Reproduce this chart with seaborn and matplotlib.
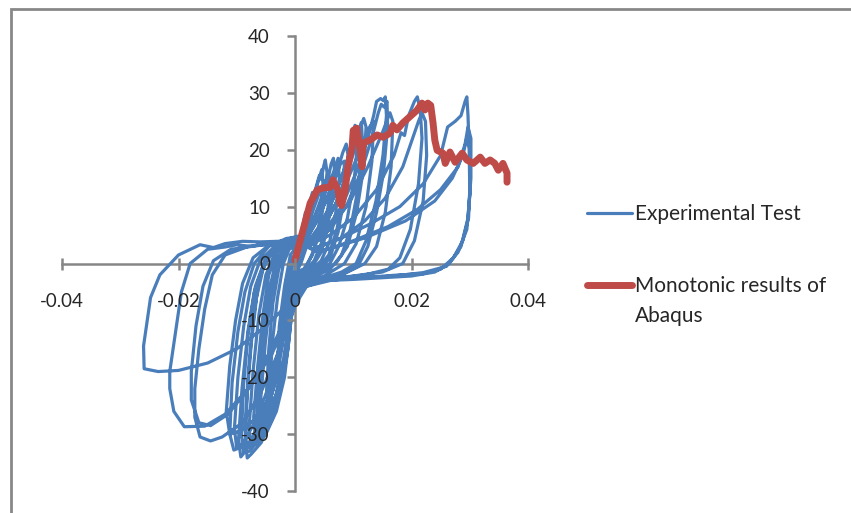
import matplotlib
matplotlib.use("Agg")
import pandas as pd
import matplotlib.pyplot as plt
import seaborn as sns
from matplotlib.patches import Rectangle

# Experimental hysteresis, one list of (displacement, force) vertices per cycle
cycle_1 = [(0.0, 0.0), (0.0005, 2.5), (0.001, 5.0), (0.0015, 7.0), (0.0012, 4.0), (0.0005, 0.5),
           (0.0, -1.0), (-0.0005, -3.0), (-0.001, -6.0), (-0.0015, -8.5), (-0.0012, -5.0),
           (-0.0006, -1.0), (0.0, 1.0)]
cycle_1b = [(0.0008, 4.0), (0.0018, 9.0), (0.0022, 7.0), (0.0012, 1.0), (0.0, -2.0), (-0.0008, -7.0),
            (-0.0018, -12.0), (-0.0016, -6.0), (-0.0006, 0.0), (0.0002, 2.0)]
cycle_2 = [(0.001, 4.0), (0.002, 8.0), (0.0025, 10.5), (0.0022, 6.0), (0.0015, 2.0), (0.0005, -0.5),
           (-0.0005, -3.0), (-0.0012, -8.0), (-0.002, -12.5), (-0.0026, -15.0), (-0.0022, -9.0),
           (-0.0015, -3.0), (-0.0005, 1.0), (0.0005, 2.0)]
cycle_2b = [(0.0012, 5.0), (0.0022, 9.5), (0.003, 12.5), (0.0028, 8.0), (0.002, 3.0), (0.001, 0.0),
            (-0.0003, -2.5), (-0.001, -7.0), (-0.0022, -14.0), (-0.003, -18.0), (-0.0027, -11.0),
            (-0.0018, -4.0), (-0.0008, 1.5), (0.0003, 3.0)]
cycle_3 = [(0.0015, 5.0), (0.0025, 9.0), (0.0035, 13.0), (0.0042, 15.5), (0.0045, 14.8), (0.0049, 17.0),
           (0.0052, 18.2), (0.0055, 16.0), (0.005, 11.0), (0.0042, 6.0), (0.003, 1.5), (0.0015, -1.0),
           (0.0, -1.5), (-0.001, -5.0), (-0.002, -12.0), (-0.003, -18.0), (-0.0038, -22.0),
           (-0.0043, -21.0), (-0.0039, -14.0), (-0.003, -6.0), (-0.002, 0.0), (-0.001, 2.5), (0.0, 3.0)]
cycle_3b = [(0.001, 3.5), (0.002, 7.0), (0.0032, 11.5), (0.004, 14.5), (0.0046, 16.5), (0.0048, 14.0),
            (0.0043, 8.0), (0.0035, 3.0), (0.002, -0.5), (0.0005, -2.0), (-0.0005, -6.0), (-0.0012, -12.0),
            (-0.002, -18.0), (-0.0032, -23.0), (-0.0045, -25.5), (-0.0049, -23.0), (-0.0045, -15.0),
            (-0.0038, -7.0), (-0.0028, -1.0), (-0.0015, 2.5), (0.0, 3.2)]
cycle_4 = [(0.001, 3.0), (0.0025, 6.0), (0.004, 10.0), (0.0052, 13.5), (0.0058, 15.5), (0.0062, 17.5),
           (0.0066, 18.5), (0.0068, 16.0), (0.0063, 11.0), (0.0055, 6.0), (0.0045, 2.0), (0.003, -0.5),
           (0.001, -2.0), (-0.0005, -3.0), (-0.0015, -9.0), (-0.0028, -17.0), (-0.004, -23.0),
           (-0.005, -26.5), (-0.0057, -27.5), (-0.0059, -24.0), (-0.0051, -14.0), (-0.0042, -6.0),
           (-0.003, 0.0), (-0.0015, 3.0), (0.0, 3.5)]
cycle_4b = [(0.0015, 3.5), (0.003, 7.0), (0.0045, 11.0), (0.0058, 14.0), (0.0068, 16.5), (0.0074, 18.5),
            (0.0076, 15.0), (0.007, 9.0), (0.006, 4.0), (0.0045, 0.5), (0.0025, -1.5), (0.0005, -2.5),
            (-0.001, -7.0), (-0.0025, -15.0), (-0.0038, -21.0), (-0.005, -25.0), (-0.0062, -28.0),
            (-0.0064, -25.0), (-0.0057, -16.0), (-0.0048, -8.0), (-0.0036, -1.5), (-0.002, 2.5),
            (-0.0005, 4.0)]
cycle_4c = [(0.0012, 4.0), (0.0028, 8.5), (0.0042, 12.5), (0.0055, 15.0), (0.006, 14.0), (0.0056, 9.0),
            (0.0047, 4.0), (0.0033, 0.5), (0.0015, -1.5), (0.0, -3.0), (-0.0007, -9.0), (-0.0015, -16.0),
            (-0.0027, -22.0), (-0.0042, -26.5), (-0.0058, -29.5), (-0.0066, -29.0), (-0.0062, -21.0),
            (-0.0054, -12.0), (-0.0044, -4.5), (-0.0032, 0.5), (-0.0016, 3.2), (0.0003, 4.6)]
cycle_5 = [(0.002, 3.0), (0.004, 6.0), (0.006, 10.0), (0.008, 15.0), (0.0092, 19.0), (0.0098, 21.5),
           (0.0103, 24.3), (0.0108, 22.0), (0.0102, 15.0), (0.009, 8.0), (0.0075, 3.0), (0.006, 0.0),
           (0.004, -1.8), (0.002, -2.5), (0.0, -2.5), (-0.0015, -8.0), (-0.003, -17.0), (-0.0045, -24.0),
           (-0.006, -29.0), (-0.0068, -30.5), (-0.0071, -27.0), (-0.0064, -18.0), (-0.0055, -9.0),
           (-0.0045, -2.0), (-0.003, 2.0), (-0.0015, 3.5), (0.0, 3.5)]
cycle_5b = [(0.0025, 3.0), (0.005, 6.5), (0.0072, 11.0), (0.009, 16.0), (0.0102, 20.0), (0.011, 23.5),
            (0.0114, 24.8), (0.0116, 21.0), (0.0108, 13.0), (0.0095, 6.0), (0.008, 1.5), (0.006, -1.0),
            (0.003, -2.5), (0.0005, -3.0), (-0.0012, -9.0), (-0.0028, -18.0), (-0.0045, -25.0),
            (-0.0062, -30.0), (-0.0075, -32.0), (-0.0079, -29.0), (-0.0072, -19.0), (-0.0062, -9.0),
            (-0.005, -2.0), (-0.0032, 2.5), (-0.0012, 4.0), (0.0, 4.2)]
cycle_5c = [(0.0015, 3.5), (0.0035, 7.0), (0.0055, 11.5), (0.0072, 16.0), (0.0082, 19.5), (0.0088, 21.0),
            (0.0091, 19.0), (0.0085, 12.0), (0.0074, 5.5), (0.006, 1.0), (0.004, -1.5), (0.0015, -2.5),
            (-0.0003, -6.0), (-0.001, -13.0), (-0.0018, -20.0), (-0.0032, -26.0), (-0.005, -30.0),
            (-0.0068, -31.8), (-0.0083, -32.5), (-0.0086, -29.0), (-0.008, -19.0), (-0.0072, -10.0),
            (-0.0062, -3.0), (-0.0048, 1.0), (-0.003, 3.0), (-0.001, 4.2), (0.0005, 4.5)]
cycle_5d = [(0.0018, 4.0), (0.004, 8.0), (0.0062, 13.0), (0.0078, 17.5), (0.0085, 18.0), (0.0082, 12.0),
            (0.0072, 6.0), (0.0058, 1.5), (0.0038, -1.0), (0.0012, -2.5), (-0.0004, -7.0), (-0.0012, -14.0),
            (-0.0025, -21.0), (-0.0042, -27.0), (-0.0062, -31.0), (-0.0078, -33.0), (-0.0088, -33.2),
            (-0.0092, -30.0), (-0.0088, -21.0), (-0.008, -12.0), (-0.0068, -4.0), (-0.0052, 0.5),
            (-0.0032, 3.0), (-0.0012, 4.3), (0.0004, 4.8)]
cycle_6 = [(0.002, 3.0), (0.005, 5.5), (0.008, 10.0), (0.0105, 16.0), (0.0125, 22.0), (0.0135, 26.0),
           (0.014, 28.5), (0.0147, 29.0), (0.0152, 28.6), (0.0155, 29.3), (0.0157, 26.0), (0.0151, 19.0),
           (0.0139, 11.0), (0.0122, 4.0), (0.0105, 0.0), (0.008, -1.5), (0.005, -2.5), (0.002, -3.0),
           (0.0, -3.5), (-0.0015, -10.0), (-0.003, -18.0), (-0.005, -25.0), (-0.007, -30.0),
           (-0.0085, -33.0), (-0.0093, -34.0), (-0.0097, -31.0), (-0.0091, -22.0), (-0.0081, -12.0),
           (-0.007, -5.0), (-0.0055, -0.5), (-0.0035, 2.5), (-0.0015, 3.5), (0.0, 4.0)]
cycle_6b = [(0.0025, 3.0), (0.006, 6.0), (0.009, 10.5), (0.0115, 16.5), (0.0133, 22.5), (0.0143, 26.5),
            (0.0148, 28.0), (0.0153, 27.5), (0.0158, 28.5), (0.0159, 24.0), (0.0152, 16.0), (0.014, 9.0),
            (0.0125, 3.0), (0.0108, -0.5), (0.008, -2.0), (0.004, -3.0), (0.001, -3.5), (-0.0012, -8.0),
            (-0.003, -16.0), (-0.005, -23.0), (-0.007, -28.0), (-0.0088, -31.5), (-0.01, -32.5),
            (-0.0104, -29.0), (-0.0098, -20.0), (-0.0088, -11.0), (-0.0076, -4.0), (-0.006, 0.5),
            (-0.0035, 3.0), (-0.001, 4.0), (0.0005, 4.0)]
cycle_6c = [(0.002, 3.5), (0.0045, 7.0), (0.0068, 12.0), (0.0088, 17.5), (0.0105, 22.0), (0.0118, 25.5),
            (0.0122, 24.0), (0.0118, 17.0), (0.0106, 9.0), (0.009, 3.0), (0.007, 0.0), (0.004, -2.0),
            (0.001, -3.0), (-0.0005, -8.0), (-0.0012, -15.0), (-0.0022, -21.0), (-0.0038, -27.0),
            (-0.0058, -31.5), (-0.0075, -33.5), (-0.0082, -34.2), (-0.0085, -31.0), (-0.0082, -23.0),
            (-0.0075, -14.0), (-0.0066, -6.0), (-0.0055, -1.0), (-0.004, 2.0), (-0.002, 3.8), (0.0, 4.5)]
cycle_6d = [(0.002, 3.0), (0.0055, 7.5), (0.0085, 13.5), (0.011, 19.5), (0.0128, 24.0), (0.0135, 25.0),
            (0.0132, 18.0), (0.0122, 10.0), (0.0105, 3.5), (0.0085, 0.0), (0.005, -2.2), (0.0015, -3.5),
            (-0.0006, -9.0), (-0.0018, -17.0), (-0.0035, -24.0), (-0.006, -29.5), (-0.0085, -32.0),
            (-0.0105, -32.8), (-0.0112, -30.0), (-0.0108, -21.0), (-0.0098, -12.0), (-0.0086, -5.0),
            (-0.007, 0.0), (-0.0045, 3.0), (-0.0015, 4.4), (0.0, 4.6)]
cycle_7 = [(0.002, 3.0), (0.006, 5.0), (0.01, 8.0), (0.014, 13.0), (0.017, 19.0), (0.0182, 23.0),
           (0.0188, 22.5), (0.0195, 26.0), (0.0205, 28.5), (0.021, 29.3), (0.0215, 27.0), (0.0218, 22.0),
           (0.0212, 14.0), (0.0198, 6.0), (0.018, 1.0), (0.016, -1.0), (0.012, -2.0), (0.008, -2.5),
           (0.004, -3.0), (0.001, -4.0), (-0.001, -9.0), (-0.003, -16.0), (-0.006, -23.0), (-0.009, -28.0),
           (-0.0125, -30.5), (-0.0145, -31.2), (-0.0163, -30.5), (-0.0172, -27.0), (-0.0172, -22.0),
           (-0.0165, -15.0), (-0.0155, -8.0), (-0.0142, -2.0), (-0.012, 1.5), (-0.008, 3.0),
           (-0.004, 3.5), (0.0, 4.0)]
cycle_7b = [(0.003, 2.5), (0.008, 4.5), (0.012, 7.5), (0.0155, 11.5), (0.0185, 17.0), (0.0202, 22.0),
            (0.0212, 25.0), (0.0218, 26.5), (0.0224, 25.0), (0.0226, 19.0), (0.022, 11.0), (0.0205, 4.0),
            (0.0185, 0.0), (0.015, -1.5), (0.01, -2.2), (0.005, -2.8), (0.0015, -4.0), (-0.001, -8.0),
            (-0.004, -15.0), (-0.008, -22.0), (-0.0115, -26.5), (-0.0145, -28.5), (-0.0165, -28.0),
            (-0.0178, -24.0), (-0.0178, -19.0), (-0.017, -11.0), (-0.0158, -4.0), (-0.014, 0.5),
            (-0.011, 2.5), (-0.006, 3.2), (0.0, 3.8)]
cycle_7c = [(0.0025, 3.0), (0.006, 6.0), (0.0095, 11.0), (0.0125, 17.0), (0.015, 23.0), (0.0163, 26.5),
            (0.0168, 25.0), (0.0165, 17.0), (0.0155, 9.0), (0.014, 3.0), (0.012, 0.0), (0.008, -2.0),
            (0.004, -3.0), (0.001, -4.0), (-0.0008, -10.0), (-0.002, -17.0), (-0.004, -23.0),
            (-0.007, -27.5), (-0.0095, -29.5), (-0.0112, -30.0), (-0.0118, -26.0), (-0.0112, -18.0),
            (-0.0102, -10.0), (-0.009, -3.5), (-0.0072, 1.0), (-0.0045, 3.2), (-0.002, 4.0), (0.0, 4.2)]
cycle_8 = [(0.003, 2.5), (0.008, 4.5), (0.013, 7.0), (0.018, 10.0), (0.022, 14.0), (0.025, 19.0),
           (0.0262, 24.0), (0.0275, 25.0), (0.0285, 26.0), (0.0292, 28.5), (0.0295, 29.3), (0.0297, 26.0),
           (0.0299, 20.0), (0.03, 13.0), (0.0298, 8.0), (0.0288, 4.0), (0.0272, 1.0), (0.025, -1.0),
           (0.022, -1.8), (0.018, -2.0), (0.014, -2.3), (0.01, -2.5), (0.006, -3.0), (0.002, -4.0),
           (-0.001, -9.0), (-0.004, -16.0), (-0.008, -22.0), (-0.012, -26.5), (-0.0155, -28.6),
           (-0.019, -28.7), (-0.0208, -26.0), (-0.0215, -22.0), (-0.0215, -19.0), (-0.0205, -12.0),
           (-0.0195, -5.0), (-0.018, 0.0), (-0.015, 2.5), (-0.012, 2.9), (-0.01, 3.3), (-0.0075, 3.0),
           (-0.005, 3.6), (0.0, 4.0)]
cycle_9 = [(0.004, 2.0), (0.01, 4.0), (0.016, 6.5), (0.021, 9.5), (0.025, 13.0), (0.028, 17.0),
           (0.0292, 21.0), (0.0297, 24.0), (0.0302, 22.0), (0.0302, 15.0), (0.0297, 8.0), (0.0285, 3.0),
           (0.0265, 0.0), (0.024, -1.5), (0.02, -2.2), (0.015, -2.5), (0.01, -2.8), (0.005, -3.0),
           (0.002, -4.0), (-0.001, -7.0), (-0.005, -11.0), (-0.01, -15.0), (-0.015, -17.5),
           (-0.02, -18.8), (-0.0235, -19.0), (-0.0259, -18.5), (-0.026, -14.5), (-0.0248, -6.0),
           (-0.0232, -2.0), (-0.02, 1.5), (-0.0163, 3.3), (-0.014, 2.8), (-0.012, 3.5), (-0.009, 3.9),
           (-0.006, 3.8), (0.0, 4.0)]
cycle_10 = [(0.004, 2.0), (0.012, 4.5), (0.019, 7.5), (0.024, 11.0), (0.027, 15.0), (0.0288, 19.0),
            (0.0296, 22.5), (0.03, 20.0), (0.0301, 13.0), (0.0295, 6.0), (0.028, 2.0), (0.026, -0.5),
            (0.022, -1.6), (0.017, -2.2), (0.012, -2.5), (0.006, -2.8), (0.002, -3.0)]

# Monotonic Abaqus curve
mono_disp = [0.0, 0.0009, 0.0017, 0.0026, 0.0038, 0.0048, 0.006, 0.0065, 0.0074, 0.0077, 0.008,
             0.0086, 0.0091, 0.0098, 0.01, 0.0106, 0.0112, 0.0115, 0.0117, 0.0129, 0.0141, 0.0151,
             0.0163, 0.0168, 0.0175, 0.0185, 0.0197, 0.0209, 0.0218, 0.0223, 0.0228, 0.0233, 0.0237,
             0.024, 0.0244, 0.0254, 0.0258, 0.0266, 0.0275, 0.0287, 0.0295, 0.0306, 0.0318, 0.0326,
             0.0335, 0.0343, 0.0349, 0.0357, 0.0364, 0.0364]
mono_force = [0.6, 4.1, 7.1, 10.6, 12.9, 13.3, 13.4, 14.7, 12.9, 10.6, 10.2,
              12.9, 17.0, 20.5, 23.4, 23.8, 19.9, 17.0, 21.2, 21.7, 22.6, 22.2,
              22.9, 24.3, 23.5, 24.7, 25.8, 26.9, 28.2, 27.0, 28.2, 27.8, 24.7,
              21.7, 19.9, 19.4, 17.6, 19.6, 17.8, 19.4, 18.2, 17.6, 18.7, 17.6,
              18.2, 17.6, 16.4, 17.6, 15.9, 14.3]

BLUE = "#4A7EBB"
RED = "#BE4B48"
GREY = "#868686"

cycles = [cycle_1, cycle_1b, cycle_2, cycle_2b, cycle_3, cycle_3b, cycle_4, cycle_4b, cycle_4c,
          cycle_5, cycle_5b, cycle_5c, cycle_5d, cycle_6, cycle_6b, cycle_6c, cycle_6d,
          cycle_7, cycle_7b, cycle_7c, cycle_8, cycle_9, cycle_10]
exp = pd.DataFrame([p for c in cycles for p in c], columns=["disp", "force"])
mono = pd.DataFrame({"disp": mono_disp, "force": mono_force})

sns.set_style("white")
plt.rcParams["font.family"] = ["Lato", "DejaVu Sans"]

fig = plt.figure(figsize=(8.51, 5.13), dpi=100)
ax = fig.add_axes([62 / 851, 1 - 491 / 513, 466 / 851, 455 / 513])

sns.lineplot(data=exp, x="disp", y="force", sort=False, estimator=None, color=BLUE,
             lw=2.3, ax=ax, label="Experimental Test")
sns.lineplot(data=mono, x="disp", y="force", sort=False, estimator=None, color=RED,
             lw=5, solid_capstyle="round", solid_joinstyle="round", ax=ax,
             label="Monotonic results of")

ax.set_xlim(-0.04, 0.04)
ax.set_ylim(-40, 40)
ax.set_xlabel("")
ax.set_ylabel("")
ax.set_facecolor("none")
for side in ["top", "right"]:
    ax.spines[side].set_visible(False)
for side in ["left", "bottom"]:
    ax.spines[side].set_position(("data", 0))
    ax.spines[side].set_color(GREY)
    ax.spines[side].set_linewidth(1.8)
    ax.spines[side].set_zorder(1)
ax.xaxis.set_zorder(4)
ax.yaxis.set_zorder(4)

ax.set_xticks([-0.04, -0.02, 0, 0.02, 0.04], ["-0.04", "-0.02", "0", "0.02", "0.04"])
ax.set_yticks(range(-40, 41, 10), [str(v) for v in range(-40, 41, 10)])
ax.tick_params(axis="x", bottom=True, direction="inout", length=9, width=1.8, color=GREY,
               pad=17, labelsize=13.5)
ax.tick_params(axis="y", left=True, direction="out", length=6, width=1.8, color=GREY,
               pad=12, labelsize=13.5)

leg = ax.legend(loc="upper left", bbox_to_anchor=(587 / 851, 1 - 204 / 513),
                bbox_transform=fig.transFigure, frameon=False, fontsize=15,
                handlelength=2.15, handletextpad=0.15, labelspacing=2.5, borderpad=0,
                borderaxespad=0)

fig.add_artist(Rectangle((11 / 851, -0.5), 2.0, 1.5 - 9 / 513, transform=fig.transFigure,
                         fill=False, edgecolor="#888888", lw=2.0))

# second line of the red legend label, placed under its first line
fig.canvas.draw()
bb = leg.get_texts()[1].get_window_extent()
fig.text(bb.x0 / 851, (bb.y0 - 10) / 513, "Abaqus", fontsize=15, va="top", ha="left")

fig.savefig("out.png", dpi=100)
